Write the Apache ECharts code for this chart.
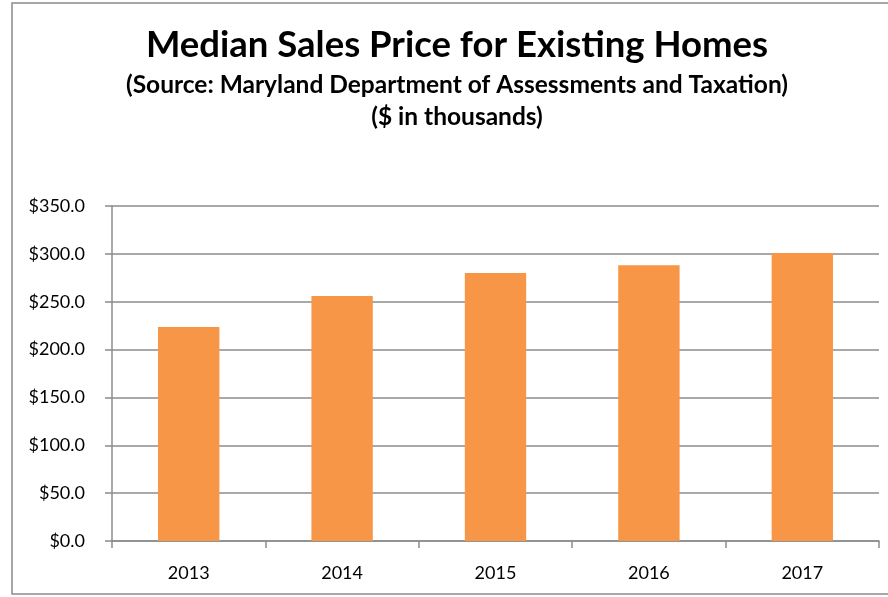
<!DOCTYPE html>
<html>
<head>
<meta charset="utf-8">
<script src="https://cdn.jsdelivr.net/npm/echarts@6/dist/echarts.min.js"></script>
<style>
  html, body { margin: 0; padding: 0; background: #fff; }
  #chart { width: 888px; height: 597px; }
</style>
</head>
<body>
<div id="chart"></div>
<script>
// values, $ thousands
const years = ['2013', '2014', '2015', '2016', '2017']
const medianPrice = [223.5, 256, 280, 288, 301]

const titleText = 'Median Sales Price for Existing Homes'
const subLines = [
  '(Source: Maryland Department of Assessments and Taxation)',
  '($ in thousands)'
]

const font = 'Lato, "Open Sans", sans-serif'
const gridGray = '#8c8c8c'

const chart = echarts.init(document.getElementById('chart'))

const headStyle = (size, lh) => ({
  fontSize: size, lineHeight: lh, fontWeight: 'bold', color: '#000', fontFamily: font
})

chart.setOption({
  animation: false,
  textStyle: { fontFamily: font },
  title: [
    { text: titleText, left: 457, textAlign: 'center', top: 25, padding: 0, textStyle: headStyle(36.5, 40) },
    { text: subLines[0], left: 457, textAlign: 'center', top: 70, padding: 0, textStyle: headStyle(24.5, 30) },
    { text: subLines[1], left: 457, textAlign: 'center', top: 102, padding: 0, textStyle: headStyle(24.5, 30) }
  ],
  graphic: [{
    type: 'rect',
    shape: { x: 12, y: 3, width: 900, height: 591 },
    style: { fill: 'none', stroke: '#8a8a8a', lineWidth: 1.5 },
    silent: true,
    z: -1
  }],
  grid: { left: 112, right: 9, top: 206, bottom: 56 },
  xAxis: {
    type: 'category',
    data: years,
    axisLine: { lineStyle: { color: gridGray, width: 1.5 } },
    axisTick: { show: true, length: 7, lineStyle: { color: gridGray, width: 1.5 } },
    axisLabel: { fontSize: 18, color: '#000', margin: 23, fontFamily: font }
  },
  yAxis: {
    type: 'value',
    min: 0,
    max: 350,
    interval: 50,
    axisLine: { show: true, lineStyle: { color: gridGray, width: 1.5 } },
    axisTick: { show: true, inside: false, length: 7, lineStyle: { color: gridGray, width: 1.5 } },
    splitLine: { lineStyle: { color: gridGray, width: 1.5 } },
    axisLabel: {
      fontSize: 18,
      color: '#000',
      margin: 27,
      fontFamily: font,
      formatter: v => '$' + v.toFixed(1)
    }
  },
  series: [{
    type: 'bar',
    data: medianPrice,
    barWidth: '40%',
    itemStyle: { color: '#f79646' }
  }]
})
</script>
</body>
</html>
